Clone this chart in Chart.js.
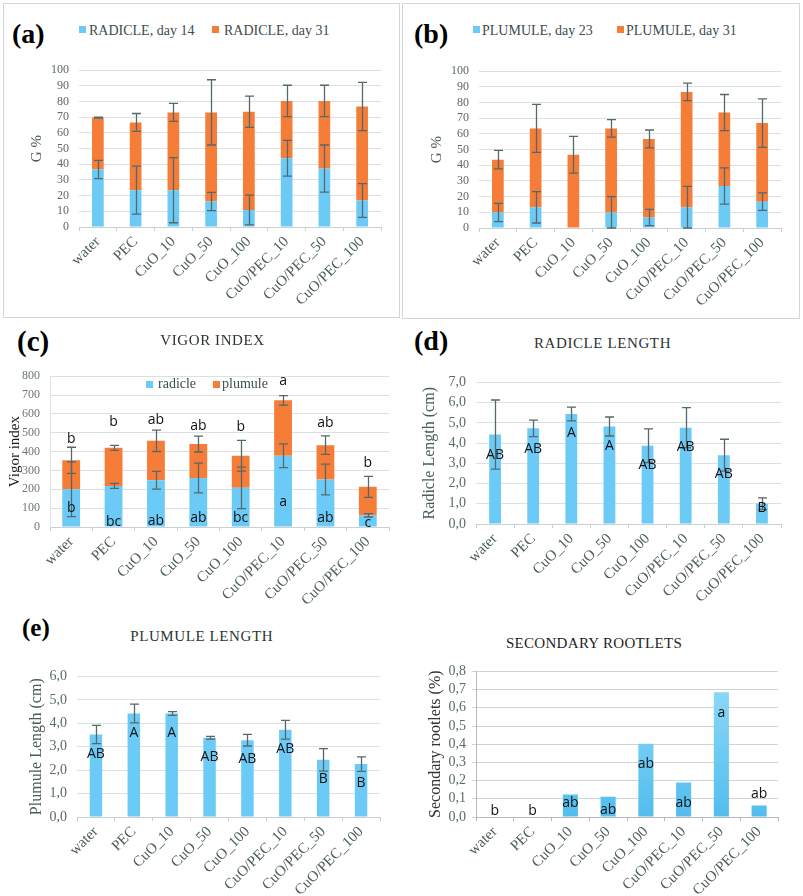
<!DOCTYPE html>
<html><head><meta charset="utf-8">
<script src="https://cdn.jsdelivr.net/npm/chart.js@4.4.1/dist/chart.umd.min.js"></script>
<style>
html,body{margin:0;padding:0;background:#fff;}
body{width:803px;height:896px;position:relative;overflow:hidden;font-family:'Liberation Serif',serif;}
canvas{position:absolute;}
.t{position:absolute;line-height:1;white-space:nowrap;font-family:'Liberation Serif',serif;}
.box{position:absolute;border:1px solid #cfd7d9;box-sizing:border-box;}
.sq{position:absolute;width:7px;height:7px;}
</style></head>
<body>
<div class="box" style="left:3px;top:3px;width:397px;height:315px"></div>
<div class="box" style="left:402px;top:3px;width:398px;height:316px"></div>
<canvas id="ca"></canvas><canvas id="cb"></canvas><canvas id="cc"></canvas>
<canvas id="cd"></canvas><canvas id="ce"></canvas><canvas id="cf"></canvas>
<script>
// ---------------- DATA ----------------
const categories = ['water','PEC','CuO_10','CuO_50','CuO_100','CuO/PEC_10','CuO/PEC_50','CuO/PEC_100'];

// (a) germination %, radicle
const radicleDay14    = [36.7, 23.5, 23.5, 16.3, 10.8, 43.8, 37.3, 16.9];
const radicleDay31    = [33.1, 43.2, 49.6, 56.8, 62.7, 36.6, 43.1, 59.9];
const radicleDay14Err = [5.8, 15.3, 20.8, 5.8, 9.5, 11.4, 15.0, 10.8];
const radicleDay31Err = [0.3, 5.7, 5.7, 20.8, 10.0, 10.0, 10.0, 15.4];

// (b) germination %, plumule
const plumuleDay23    = [9.9, 13.2, 0, 9.9, 6.7, 13.2, 26.8, 16.8];
const plumuleDay31    = [33.7, 50.3, 46.7, 53.6, 50.1, 73.6, 46.8, 50.1];
const plumuleDay23Err = [5.85, 10.0, null, 10.1, 5.2, 13.4, 11.55, 5.55];
const plumuleDay31Err = [5.9, 15.3, 11.75, 5.6, 5.7, 5.6, 11.55, 15.45];

// (c) vigor index
const vigorRadicle       = [200, 218, 248, 260, 208, 378, 252, 62];
const vigorPlumule       = [154, 202, 209, 180, 170, 294, 182, 151];
const vigorRadicleErr    = [145, 13.5, 47, 78.5, 110, 63, 82, 9];
const vigorPlumuleErr    = [69, 13, 56.5, 42, 82, 25, 49, 56];
const vigorTopLetters    = ['b','b','ab','ab','b','a','ab','b'];
const vigorTopLetterY    = [467, 557, 565, 535, 528, 773, 550, 338];
const vigorBottomLetters = ['b','bc','ab','ab','bc','a','ab','c'];
const vigorBottomLetterY = [101, 29, 34, 46, 50, 135, 50, 22];

// (d) radicle length (cm)
const radicleLength    = [4.42, 4.73, 5.44, 4.82, 3.87, 4.76, 3.40, 1.00];
const radicleLengthErr = [1.71, 0.41, 0.34, 0.47, 0.83, 0.99, 0.79, 0.29];
const radicleLetters   = ['AB','AB','A','A','AB','AB','AB','B'];
const radicleLetterY   = [3.41, 3.73, 4.50, 3.84, 2.93, 3.82, 2.46, 0.77];

// (e) plumule length (cm)
const plumuleLength    = [3.52, 4.42, 4.42, 3.38, 3.28, 3.72, 2.44, 2.26];
const plumuleLengthErr = [0.39, 0.40, 0.08, 0.06, 0.25, 0.40, 0.48, 0.31];
const plumuleLetters   = ['AB','A','A','AB','AB','AB','B','B'];
const plumuleLetterY   = [2.68, 3.58, 3.58, 2.58, 2.47, 2.91, 1.64, 1.44];

// (f) secondary rootlets (%)
const rootlets       = [0, 0, 0.123, 0.111, 0.403, 0.19, 0.685, 0.063];
const rootletLetters = ['b','b','ab','ab','ab','ab','a','ab'];
const rootletLetterY = [0.032, 0.032, 0.075, 0.036, 0.291, 0.075, 0.573, 0.126];

// ---------------- STYLE ----------------
const BLUE = 'rgb(108,203,246)';
const ORANGE = 'rgb(245,125,55)';
const commaFmt = v => v.toFixed(1).replace('.', ',');

// ---------------- PLUGINS ----------------
const errorBars = {
  id: 'errorBars',
  afterDatasetsDraw(chart) {
    const ctx = chart.ctx, y = chart.scales.y, dsets = chart.data.datasets;
    ctx.save();
    ctx.strokeStyle = '#56686b';
    ctx.lineWidth = 1.3;
    dsets.forEach((ds, di) => {
      if (!ds.errors) return;
      const meta = chart.getDatasetMeta(di);
      meta.data.forEach((bar, i) => {
        const e = ds.errors[i];
        if (e === null || e === undefined) return;
        let top = 0;
        for (let k = 0; k <= di; k++) top += dsets[k].data[i];
        const yHi = y.getPixelForValue(top + e);
        const yLo = y.getPixelForValue(Math.max(top - e, 0));
        const x = Math.round(bar.x) + 0.5;
        ctx.beginPath();
        ctx.moveTo(x, yHi); ctx.lineTo(x, yLo);
        ctx.moveTo(x - 4.5, yHi); ctx.lineTo(x + 4.5, yHi);
        ctx.moveTo(x - 4.5, yLo); ctx.lineTo(x + 4.5, yLo);
        ctx.stroke();
      });
    });
    ctx.restore();
  }
};
const letterMarks = {
  id: 'letterMarks',
  afterDatasetsDraw(chart, args, opts) {
    if (!opts || !opts.sets) return;
    const ctx = chart.ctx, x = chart.scales.x, y = chart.scales.y;
    ctx.save();
    ctx.fillStyle = '#111';
    ctx.font = '14px "Open Sans"';
    ctx.textAlign = 'center';
    ctx.textBaseline = 'middle';
    opts.sets.forEach(s => s.labels.forEach((t, i) => {
      ctx.fillText(t, x.getPixelForValue(i), y.getPixelForValue(s.ys[i]));
    }));
    ctx.restore();
  }
};

// ---------------- BUILDER ----------------
function build(id, c) {
  const padTop = 10, padRight = 4, xAxisH = 80;
  const lh = c.yTitleSize * 1.2;
  const canvasLeft = Math.round(c.titleX - lh / 2);
  const W = c.L - canvasLeft;
  const el = document.getElementById(id);
  el.width = W + (c.R - c.L) + padRight;
  el.height = padTop + (c.B - c.T) + xAxisH;
  el.style.left = canvasLeft + 'px';
  el.style.top = (c.T - padTop) + 'px';
  const axisColor = c.axisColor || '#c9d0d2';
  return new Chart(el, {
    type: 'bar',
    data: { labels: categories, datasets: c.datasets.map(d => Object.assign({
      borderWidth: 0, barPercentage: c.barPct, categoryPercentage: 1
    }, d)) },
    plugins: [errorBars, letterMarks],
    options: {
      responsive: false, animation: false, devicePixelRatio: 1,
      layout: { padding: { left: 0, top: padTop, right: padRight, bottom: 0 } },
      plugins: { legend: { display: false }, tooltip: { enabled: false },
                 letterMarks: { sets: c.letters || null } },
      scales: {
        x: {
          stacked: !!c.stacked, offset: true,
          grid: { display: true, offset: true, drawOnChartArea: false, drawTicks: true, tickLength: 4, color: axisColor },
          border: { display: true, color: axisColor },
          ticks: { autoSkip: false, maxRotation: 45, minRotation: 45, padding: 2, color: '#4d5d5d',
                   font: { family: 'Liberation Serif', size: 15 } },
          afterFit: s => { s.height = xAxisH; }
        },
        y: {
          stacked: !!c.stacked, min: 0, max: c.yMax,
          grid: { color: c.gridColor || '#dbe1e3', drawTicks: !!c.yTicks, tickLength: 4 },
          border: { display: !!c.yBorder, color: c.yBorderColor || axisColor },
          ticks: { autoSkip: false, stepSize: c.yStep, padding: c.yTicks ? 6 : 10, color: c.tickColor || '#5b6a6a',
                   font: { family: 'Liberation Serif', size: c.tickSize },
                   callback: c.fmt || (v => v) },
          title: { display: true, text: c.yTitle, padding: { top: 0, bottom: 0 },
                   color: c.yTitleColor || '#4b5b5b',
                   font: { family: 'Liberation Serif', size: c.yTitleSize } },
          afterFit: s => { s.width = W; }
        }
      }
    }
  });
}

build('ca', { L: 79, T: 63, R: 381, B: 227, titleX: 37, yTitle: 'G %', yTitleSize: 15,
  tickSize: 12, yMax: 100, yStep: 10, stacked: true, barPct: 0.31,
  datasets: [
    { label: 'RADICLE, day 14', data: radicleDay14, errors: radicleDay14Err, backgroundColor: BLUE },
    { label: 'RADICLE, day 31', data: radicleDay31, errors: radicleDay31Err, backgroundColor: ORANGE }
  ] });

build('cb', { L: 479, T: 64, R: 781, B: 228, titleX: 437, yTitle: 'G %', yTitleSize: 15,
  tickSize: 12, yMax: 100, yStep: 10, stacked: true, barPct: 0.31,
  datasets: [
    { label: 'PLUMULE, day 23', data: plumuleDay23, errors: plumuleDay23Err, backgroundColor: BLUE },
    { label: 'PLUMULE, day 31', data: plumuleDay31, errors: plumuleDay31Err, backgroundColor: ORANGE }
  ] });

build('cc', { L: 50, T: 369, R: 389, B: 527, titleX: 15, yTitle: 'Vigor index', yTitleSize: 15,
  yTitleColor: '#1a1a1a', tickSize: 12, tickColor: '#6a7878', yMax: 800, yStep: 100, stacked: true,
  barPct: 0.42, yBorder: true, yBorderColor: '#dfe4e6',
  datasets: [
    { label: 'radicle', data: vigorRadicle, errors: vigorRadicleErr, backgroundColor: BLUE },
    { label: 'plumule', data: vigorPlumule, errors: vigorPlumuleErr, backgroundColor: ORANGE }
  ],
  letters: [ { labels: vigorTopLetters, ys: vigorTopLetterY },
             { labels: vigorBottomLetters, ys: vigorBottomLetterY } ] });

build('cd', { L: 476, T: 374, R: 781, B: 524, titleX: 430, yTitle: 'Radicle Length (cm)', yTitleSize: 16,
  tickSize: 14, yMax: 7, yStep: 1, fmt: commaFmt, barPct: 0.31,
  datasets: [ { label: 'radicle length', data: radicleLength, errors: radicleLengthErr, backgroundColor: BLUE } ],
  letters: [ { labels: radicleLetters, ys: radicleLetterY } ] });

build('ce', { L: 77, T: 668, R: 380, B: 817, titleX: 37, yTitle: 'Plumule Length (cm)', yTitleSize: 16,
  tickSize: 14, yMax: 6, yStep: 1, fmt: commaFmt, barPct: 0.33,
  datasets: [ { label: 'plumule length', data: plumuleLength, errors: plumuleLengthErr, backgroundColor: BLUE } ],
  letters: [ { labels: plumuleLetters, ys: plumuleLetterY } ] });

build('cf', { L: 476, T: 667, R: 778, B: 817, titleX: 436, yTitle: 'Secondary rootlets (%)', yTitleSize: 16,
  yTitleColor: '#333', tickSize: 14, yMax: 0.8, yStep: 0.1, fmt: commaFmt, barPct: 0.4,
  yBorder: true, yTicks: true, axisColor: '#b3babc', yBorderColor: '#b3babc', gridColor: '#cfd5d6',
  datasets: [ { label: 'secondary rootlets', data: rootlets,
    backgroundColor: (ctx) => {
      const ca = ctx.chart.chartArea;
      if (!ca) return BLUE;
      const g = ctx.chart.ctx.createLinearGradient(0, ca.top, 0, ca.bottom);
      g.addColorStop(0, 'rgb(146,219,249)');
      g.addColorStop(1, 'rgb(82,189,238)');
      return g;
    } } ],
  letters: [ { labels: rootletLetters, ys: rootletLetterY } ] });

// ---------------- TEXT (panel labels, titles, legends) ----------------
function txt(text, left, baseline, size, opts) {
  opts = opts || {};
  const d = document.createElement('div');
  d.className = 't';
  d.textContent = text;
  d.style.fontSize = size + 'px';
  d.style.top = (baseline - 0.8375 * size) + 'px';
  d.style.left = left + 'px';
  if (opts.center) d.style.transform = 'translateX(-50%)';
  if (opts.bold) d.style.fontWeight = 'bold';
  d.style.color = opts.color || '#000';
  if (opts.ls) d.style.letterSpacing = opts.ls + 'px';
  document.body.appendChild(d);
}
function sq(left, top, color) {
  const d = document.createElement('div');
  d.className = 'sq';
  d.style.left = left + 'px'; d.style.top = top + 'px'; d.style.background = color;
  document.body.appendChild(d);
}
txt('(a)', 12, 43.5, 28, { bold: true });
txt('(b)', 414, 43.5, 28, { bold: true });
txt('(c)', 17, 351, 29, { bold: true });
txt('(d)', 414, 350.5, 28, { bold: true });
txt('(e)', 22, 636, 25, { bold: true });

const legColor = '#3d4c4c';
sq(79, 26, BLUE);   txt('RADICLE, day 14', 89, 36, 14, { color: legColor });
sq(212, 26, ORANGE); txt('RADICLE, day 31', 224, 36, 14, { color: legColor });
sq(473, 26, BLUE);  txt('PLUMULE, day 23', 482, 36, 14, { color: legColor });
sq(617, 26, ORANGE); txt('PLUMULE, day 31', 626, 36, 14, { color: legColor });
sq(146, 381, BLUE);  txt('radicle', 158, 389, 14, { color: legColor });
sq(213, 381, ORANGE); txt('plumule', 222, 389, 14, { color: legColor });

const titleColor = '#2b3535';
txt('VIGOR INDEX', 212.5, 346, 15, { center: true, color: titleColor, ls: 0.6 });
txt('RADICLE LENGTH', 602.5, 348.3, 15, { center: true, color: titleColor, ls: 0.6 });
txt('PLUMULE LENGTH', 201.7, 641.7, 15, { center: true, color: titleColor, ls: 0.6 });
txt('SECONDARY ROOTLETS', 594, 648.3, 15, { center: true, color: '#1e1e1e', ls: 0.3 });
</script>
</body></html>
